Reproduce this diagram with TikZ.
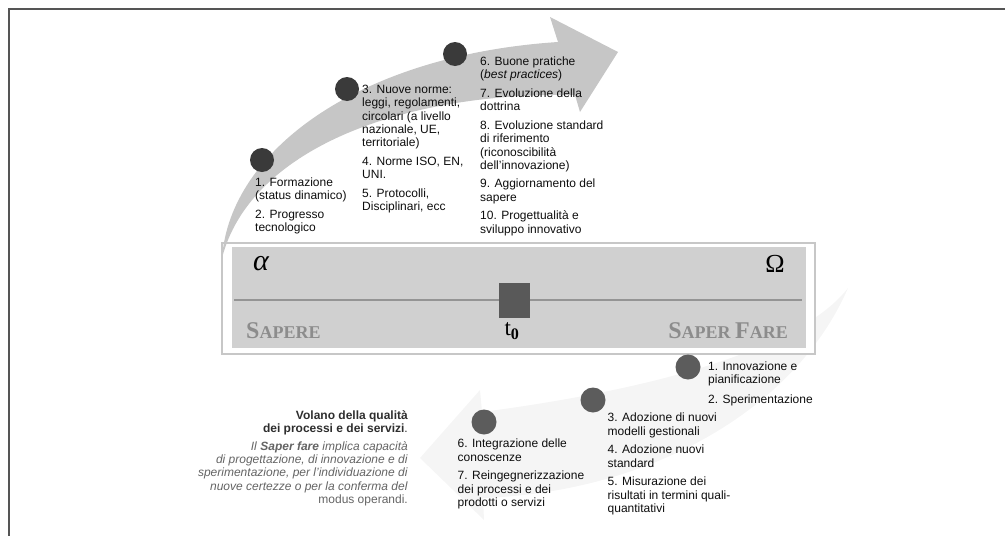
\documentclass[tikz,border=0pt]{standalone}
\usepackage{fontspec}
\setmainfont{Liberation Sans}
\newfontfamily\serif{Liberation Serif}
\definecolor{arrowgrey}{RGB}{198,198,198}
\definecolor{fadegrey}{RGB}{245,245,245}
\definecolor{boxgrey}{RGB}{208,208,208}
\definecolor{framegrey}{RGB}{85,85,85}
\definecolor{dotdark}{RGB}{58,58,58}
\definecolor{dotmid}{RGB}{92,92,92}
\definecolor{capgrey}{RGB}{100,100,100}
\definecolor{scgrey}{RGB}{140,140,140}
\newcommand{\fakesc}[2]{{\fontsize{24}{24}\selectfont #1}{\fontsize{18}{18}\selectfont #2}}

\begin{document}
\begin{tikzpicture}[x=1pt, y=-1pt,
    txt/.style={anchor=north west, inner sep=0pt, align=left, text=black!95,
        font=\fontsize{12}{13.3}\selectfont},
    dot/.style={circle, fill=dotdark, minimum size=24pt, inner sep=0pt},
    lowdot/.style={dot, fill=dotmid, minimum size=25pt}]
    \useasboundingbox (0,0) rectangle (1005,536);
    \draw[framegrey, line width=2pt] (9,536) -- (9,9) -- (1005,9);

    % faint arrow, behind the box
    \fill[fadegrey] (848,288) .. controls (800,350) and (650,390) .. (482,412)
        -- (480,390) -- (420,458) -- (484,520) -- (483,498)
        .. controls (650,492) and (795,410) .. cycle;

    \draw[draw=black!22, line width=1.5pt, fill=white] (222,243) rectangle (815,354);

    % rising arrow
    \fill[arrowgrey] (222,258) .. controls (230,150) and (360,55) .. (558,42)
        -- (550,17) -- (618,52) -- (580,112) -- (575,95)
        .. controls (400,92) and (250,150) .. cycle;

    \fill[boxgrey] (232,247) rectangle (806,348);
    \draw[black!42, line width=1.5pt] (234,300) -- (802,300);
    \node[fill=black!65, minimum width=31pt, minimum height=35pt, inner sep=0pt] (tzero) at (514.5,300.5) {};
    \node[font=\serif\fontsize{23}{23}\selectfont, inner sep=0pt] (tlab) at (512,331) {t\textsubscript{\textbf{0}}};
    \node[font=\serif\itshape\fontsize{30}{30}\selectfont, inner sep=0pt] (alpha) at (261,264) {α};
    \node[font=\serif\fontsize{26}{26}\selectfont, inner sep=0pt] (omega) at (775,264) {Ω};
    \node[anchor=west, inner sep=0pt, font=\serif\bfseries, text=scgrey] (sapere) at (246,331) {\fakesc{S}{APERE}};
    \node[anchor=east, inner sep=0pt, font=\serif\bfseries, text=scgrey] (saperfare) at (788,331) {\fakesc{S}{APER }\fakesc{F}{ARE}};

    \node[dot] (d1) at (262,160) {};
    \node[dot] (d2) at (347,89) {};
    \node[dot] (d3) at (455,54) {};
    \node[lowdot] (d4) at (688,367) {};
    \node[lowdot] (d5) at (593,400) {};
    \node[lowdot] (d6) at (484,422) {};

    \node[txt] (formazione) at (255,177.5) {1. Formazione\\ (status dinamico)\\[5.4pt]
        2. Progresso\\ tecnologico};
    \node[txt] (norme) at (362,85) {3. Nuove norme:\\ leggi, regolamenti,\\ circolari (a livello\\
        nazionale, UE,\\ territoriale)\\[5.4pt] 4. Norme ISO, EN,\\ UNI.\\[5.4pt]
        5. Protocolli,\\ Disciplinari, ecc};
    \node[txt] (pratiche) at (480,56.5) {6. Buone pratiche\\ (\textit{best practices})\\[5.4pt]
        7. Evoluzione della\\ dottrina\\[5.4pt] 8. Evoluzione standard\\ di riferimento\\
        (riconoscibilità\\ dell'innovazione)\\[5.4pt] 9. Aggiornamento del\\ sapere\\[5.4pt]
        10. Progettualità e\\ sviluppo innovativo};

    \node[txt] (innovazione) at (708,361.5) {1. Innovazione e\\ pianificazione\\[6pt]
        2. Sperimentazione};
    \node[txt] (adozione) at (607.5,413) {3. Adozione di nuovi\\ modelli gestionali\\[5.4pt]
        4. Adozione nuovi\\ standard\\[5.4pt] 5. Misurazione dei\\
        risultati in termini quali-\\ quantitativi};
    \node[txt] (integrazione) at (457.5,439) {6. Integrazione delle\\ conoscenze\\[5.4pt]
        7. Reingegnerizzazione\\ dei processi e dei\\ prodotti o servizi};

    \node[txt, anchor=north east, align=right, text=black!82] (volano) at (408,410.5)
        {\textbf{Volano della qualità}\\ \textbf{dei processi e dei servizi}.\\[4pt]
        \textcolor{capgrey}{\textit{Il} \textbf{\textit{Saper fare}} \textit{implica capacità}}\\
        \textcolor{capgrey}{\textit{di progettazione, di innovazione e di}}\\
        \textcolor{capgrey}{\textit{sperimentazione, per l’individuazione di}}\\
        \textcolor{capgrey}{\textit{nuove certezze o per la conferma del}}\\
        \textcolor{capgrey}{modus operandi.}};
\end{tikzpicture}
\end{document}
